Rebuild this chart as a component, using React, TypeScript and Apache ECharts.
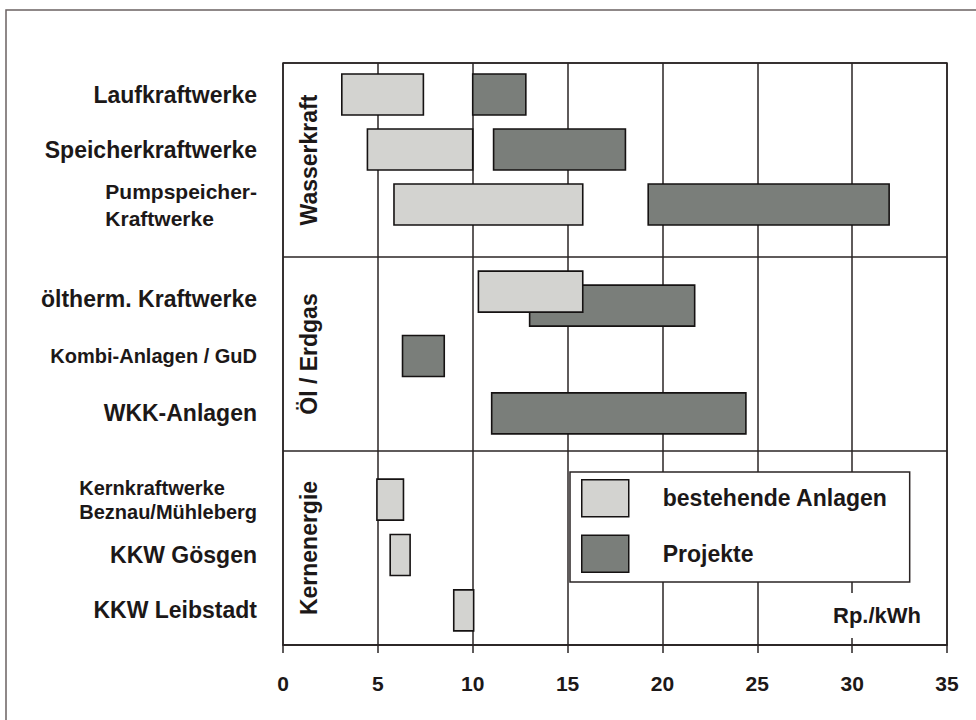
import React, { useEffect, useRef } from 'react';
import * as echarts from 'echarts';

// ---------- data ----------
const categories = [
  'Laufkraftwerke',
  'Speicherkraftwerke',
  'Pumpspeicher-\nKraftwerke',
  'öltherm. Kraftwerke',
  'Kombi-Anlagen / GuD',
  'WKK-Anlagen',
  'Kernkraftwerke\nBeznau/Mühleberg',
  'KKW Gösgen',
  'KKW Leibstadt',
];
const sections = ['Wasserkraft', 'Öl / Erdgas', 'Kernenergie'];
const sectionSizes = [3, 3, 3];

const existingFrom: (number | null)[] = [3.1, 4.45, 5.85, 10.3, null, null, 4.95, 5.65, 9.0];
const existingTo: (number | null)[] = [7.4, 10.0, 15.8, 15.8, null, null, 6.35, 6.7, 10.05];
const projectFrom: (number | null)[] = [10.0, 11.1, 19.25, 13.0, 6.3, 11.0, null, null, null];
const projectTo: (number | null)[] = [12.8, 18.05, 31.95, 21.7, 8.5, 24.4, null, null, null];

const xTicks = [0, 5, 10, 15, 20, 25, 30, 35];
const legendNames = ['bestehende Anlagen', 'Projekte'];
const unitLabel = 'Rp./kWh';

// ---------- styles ----------
const FONT = 'Liberation Sans, Arial, Helvetica, sans-serif';
const INK = '#1c1818';
const LINE = '#2a2424';
const LIGHT = '#d3d3d0';
const DARK = '#7a7e7a';
const BAR_H = 41;
const OVERLAP_SHIFT = 7;
const labelStyleKeys = ['n', 'n', 'p', 'n', 's', 'n', 'k', 'n', 'n'];

const barGrids = [
  { top: 67, height: 165 },
  { top: 270, height: 172 },
  { top: 472, height: 166 },
];

function overlapShift(i: number): number {
  const a0 = existingFrom[i], a1 = existingTo[i], b0 = projectFrom[i], b1 = projectTo[i];
  if (a0 == null || a1 == null || b0 == null || b1 == null) return 0;
  return a0 < b1 && b0 < a1 ? 1 : 0;
}

function sectionStart(gi: number) {
  let s = 0;
  for (let k = 0; k < gi; k++) s += sectionSizes[k];
  return s;
}

function makeRender(fill: string) {
  return (params: any, api: any) => {
    const row = api.value(0);
    const p0 = api.coord([api.value(1), row]);
    const p1 = api.coord([api.value(2), row]);
    const y = p0[1] + api.value(3) * OVERLAP_SHIFT - BAR_H / 2;
    return {
      type: 'rect',
      shape: { x: p0[0], y, width: p1[0] - p0[0], height: BAR_H },
      style: { fill, stroke: '#151212', lineWidth: 1.6 },
    };
  };
}

export default function App() {
  const ref = useRef<HTMLDivElement>(null);

  useEffect(() => {
    if (!ref.current) return;
    const chart = echarts.init(ref.current, undefined, { renderer: 'svg' });

    const xMin = xTicks[0];
    const xMax = xTicks[xTicks.length - 1];
    const xInterval = xTicks[1] - xTicks[0];

    const grids: any[] = [
      { left: 283, right: 29, top: 63, bottom: 75, show: true, borderColor: LINE, borderWidth: 1.5 },
      ...barGrids.map((g) => ({ left: 283, right: 29, top: g.top, height: g.height })),
    ];

    const xAxes: any[] = [
      {
        gridIndex: 0,
        type: 'value',
        min: xMin,
        max: xMax,
        interval: xInterval,
        axisLine: { show: true, lineStyle: { color: LINE, width: 1.5 } },
        axisTick: { show: true, length: 8, lineStyle: { color: LINE, width: 1.5 } },
        axisLabel: { color: INK, fontFamily: FONT, fontWeight: 'bold', fontSize: 21, margin: 28 },
        splitLine: { show: true, lineStyle: { color: LINE, width: 1.5 } },
      },
      ...barGrids.map((_, gi) => ({ gridIndex: gi + 1, type: 'value', min: xMin, max: xMax, show: false })),
    ];

    const rich = {
      n: { fontFamily: FONT, fontWeight: 'bold', fontSize: 23, color: INK, align: 'right' },
      s: { fontFamily: FONT, fontWeight: 'bold', fontSize: 20, color: INK, align: 'right' },
      p: { fontFamily: FONT, fontWeight: 'bold', fontSize: 21, color: INK, align: 'left', lineHeight: 27 },
      k: { fontFamily: FONT, fontWeight: 'bold', fontSize: 20, color: INK, align: 'left', lineHeight: 24 },
    };

    const yAxes: any[] = [
      {
        gridIndex: 0,
        type: 'category',
        data: sections,
        inverse: true,
        axisLine: { show: false },
        axisTick: { show: false },
        splitLine: { show: true, interval: 0, lineStyle: { color: LINE, width: 1.5 } },
        axisLabel: {
          inside: true,
          rotate: 90,
          margin: 14,
          interval: 0,
          color: INK,
          fontFamily: FONT,
          fontWeight: 'bold',
          fontSize: 23,
        },
      },
    ];
    const series: any[] = [];

    sectionSizes.forEach((size, gi) => {
      const start = sectionStart(gi);
      const idx = Array.from({ length: size }, (_, k) => start + k);
      yAxes.push({
        gridIndex: gi + 1,
        type: 'category',
        data: idx.map((i) => categories[i]),
        inverse: true,
        axisLine: { show: false },
        axisTick: { show: false },
        splitLine: { show: false },
        axisLabel: {
          margin: 26,
          interval: 0,
          rich,
          formatter: (v: string, i: number) => {
            const key = labelStyleKeys[start + i];
            return v
              .split('\n')
              .map((line) => `{${key}|${line}}`)
              .join('\n');
          },
        },
      });

      const projData = idx
        .filter((i) => projectFrom[i] != null)
        .map((i) => [i - start, projectFrom[i], projectTo[i], overlapShift(i)]);
      const existData = idx
        .filter((i) => existingFrom[i] != null)
        .map((i) => [i - start, existingFrom[i], existingTo[i], -overlapShift(i)]);

      series.push({
        type: 'custom',
        name: legendNames[1],
        xAxisIndex: gi + 1,
        yAxisIndex: gi + 1,
        z: 2,
        clip: false,
        itemStyle: { color: DARK },
        encode: { x: [1, 2], y: 0 },
        renderItem: makeRender(DARK),
        data: projData,
      });
      series.push({
        type: 'custom',
        name: legendNames[0],
        xAxisIndex: gi + 1,
        yAxisIndex: gi + 1,
        z: 3,
        clip: false,
        itemStyle: { color: LIGHT },
        encode: { x: [1, 2], y: 0 },
        renderItem: makeRender(LIGHT),
        data: existData,
      });
    });

    chart.setOption({
      animation: false,
      backgroundColor: '#ffffff',
      grid: grids,
      xAxis: xAxes,
      yAxis: yAxes,
      legend: {
        data: legendNames,
        orient: 'vertical',
        left: 570,
        top: 472,
        padding: [7, 22, 9, 11],
        itemGap: 17,
        itemWidth: 47,
        itemHeight: 37,
        icon: 'rect',
        selectedMode: false,
        backgroundColor: '#ffffff',
        borderColor: LINE,
        borderWidth: 1.5,
        z: 10,
        itemStyle: { borderColor: '#151212', borderWidth: 1.5 },
        formatter: (name: string) => `{t|${name}}`,
        textStyle: {
          rich: {
            t: { fontFamily: FONT, fontWeight: 'bold', fontSize: 23, color: INK, padding: [0, 0, 0, 29] },
          },
        },
      },
      graphic: [
        {
          type: 'rect',
          silent: true,
          z: -10,
          shape: { x: 6, y: 10, width: 1200, height: 1000 },
          style: { fill: 'none', stroke: '#6b6262', lineWidth: 1.5 },
        },
        {
          type: 'text',
          right: 51,
          top: 593,
          z: 20,
          style: {
            text: unitLabel,
            fill: INK,
            font: `bold 22px ${FONT}`,
            backgroundColor: '#ffffff',
            padding: [11, 4, 12, 4],
          },
        },
      ],
      series,
    });

    return () => chart.dispose();
  }, []);

  return (
    <div
      ref={ref}
      style={{ position: 'fixed', left: 0, top: 0, width: 976, height: 720, background: '#fff' }}
    />
  );
}
